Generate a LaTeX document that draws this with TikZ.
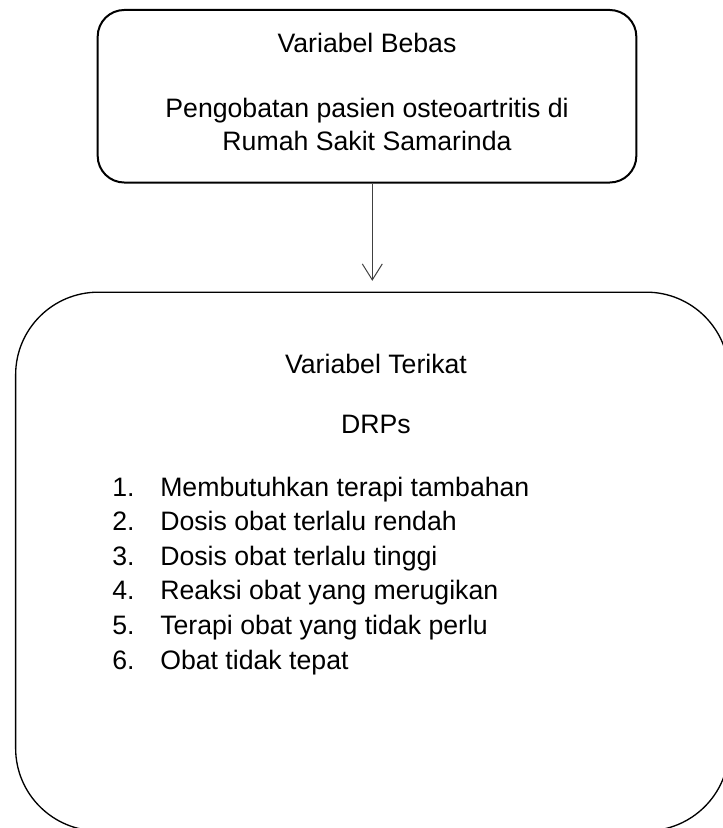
\documentclass[tikz,border=0pt]{standalone}
\usepackage{fontspec}
\setmainfont{Liberation Sans}
\usetikzlibrary{arrows.meta, positioning}

\begin{document}
\begin{tikzpicture}[
        x=0.75pt, y=-0.75pt,
        box/.style={draw=black, line width=1.5pt, rounded corners=20pt,
            minimum width=404pt, minimum height=129.4pt, inner sep=0pt},
        bigbox/.style={draw=black, line width=1pt, rounded corners=62pt,
            minimum width=535pt, minimum height=404pt, inner sep=0pt},
        txt/.style={font=\fontsize{20}{24}\selectfont, inner sep=0pt, anchor=base},
        item/.style={txt, anchor=base west},
        rel/.style={-{Straight Barb[length=12pt, width=15pt]}, line width=0.75pt,
            draw=black!75, shorten >=8pt}
    ]
        \useasboundingbox (0,0) rectangle (722,828);

        \node[box] (bebas) at (367,96.25) {};
        \node[bigbox] (terikat) at (372.3,561.5) {};

        \node[txt] (judulBebas) at (367,52) {Variabel Bebas};
        \node[txt] (isiBebas1) at (367,117) {Pengobatan pasien osteoartritis di};
        \node[txt] (isiBebas2) at (367,150) {Rumah Sakit Samarinda};

        \node[txt] (judulTerikat) at (376,373) {Variabel Terikat};
        \node[txt] (drp) at (376,433) {DRPs};

        \foreach \i/\teks in {1/Membutuhkan terapi tambahan, 2/Dosis obat terlalu rendah,
            3/Dosis obat terlalu tinggi, 4/Reaksi obat yang merugikan,
            5/Terapi obat yang tidak perlu, 6/Obat tidak tepat} {
            \node[item] (no\i) at (112,461.4+34.6*\i) {\i.};
            \node[item] (item\i) at (160,461.4+34.6*\i) {\teks};
        }

        \draw[rel] (terikat.north |- bebas.south) -- (terikat.north);
    \end{tikzpicture}
\end{document}
